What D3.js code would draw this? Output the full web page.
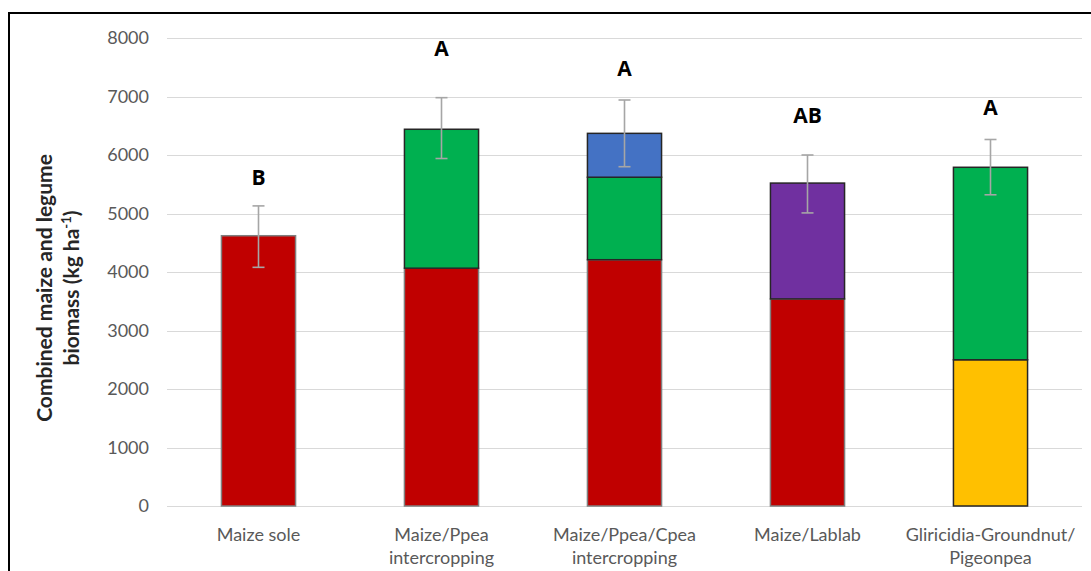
<!DOCTYPE html>
<html>
<head>
<meta charset="utf-8">
<script src="https://cdn.jsdelivr.net/npm/d3@7"></script>
<style>
  html, body { margin: 0; padding: 0; background: #fff; }
  svg { display: block; }
</style>
</head>
<body>
<svg id="chart" width="1091" height="571"></svg>
<script>
// ---- data ----
const categories = [
  ["Maize sole"],
  ["Maize/Ppea", "intercropping"],
  ["Maize/Ppea/Cpea", "intercropping"],
  ["Maize/Lablab"],
  ["Gliricidia-Groundnut/", "Pigeonpea"]
];
const catKeys = ["Maize sole", "Maize/Ppea", "Maize/Ppea/Cpea", "Maize/Lablab", "Gliricidia"];
const maize      = [4620, 4065, 4210, 3540, 0];
const gliricidia = [0, 0, 0, 0, 2500];
const pigeonpea  = [0, 2375, 1410, 0, 3290];
const cowpea     = [0, 0, 750, 0, 0];
const lablab     = [0, 0, 0, 1980, 0];
const errUpper   = [5130, 6980, 6940, 6000, 6265];
const errLower   = [4080, 5940, 5800, 5010, 5320];
const letters    = ["B", "A", "A", "AB", "A"];
const letterAt   = [5624, 7829, 7487, 6684, 6821];
const yTicks     = [0, 1000, 2000, 3000, 4000, 5000, 6000, 7000, 8000];

const seriesNames = ["maize", "gliricidia", "pigeonpea", "cowpea", "lablab"];
const seriesValues = { maize, gliricidia, pigeonpea, cowpea, lablab };
const seriesColor = { maize: "#C00000", gliricidia: "#FFC000", pigeonpea: "#00B050", cowpea: "#4472C4", lablab: "#7030A0" };
const seriesStroke = { maize: "#7f7f7f", gliricidia: "#262626", pigeonpea: "#262626", cowpea: "#262626", lablab: "#262626" };

(function () {
const svg = d3.select("#chart");
const pLeft = 167, pRight = 1082, pTop = 38, pBottom = 506;

const x = d3.scaleBand().domain(catKeys).range([pLeft, pRight]).paddingInner(0.595).paddingOuter(0.2975);
const y = d3.scaleLinear().domain([0, 8000]).range([pBottom, pTop]);

// frame
svg.append("path")
  .attr("d", `M9,571 L9,13 L1091,13`)
  .attr("fill", "none").attr("stroke", "#000").attr("stroke-width", 2);

// gridlines
svg.append("g").selectAll("line").data(yTicks).join("line")
  .attr("x1", pLeft).attr("x2", pRight)
  .attr("y1", d => Math.round(y(d)) + 0.5).attr("y2", d => Math.round(y(d)) + 0.5)
  .attr("stroke", "#D9D9D9").attr("stroke-width", 1);

// y axis labels
const yAxis = d3.axisLeft(y).tickValues(yTicks).tickFormat(d3.format("d")).tickSize(0).tickPadding(0);
const ya = svg.append("g").attr("transform", `translate(149,0)`).call(yAxis);
ya.select(".domain").remove();
ya.selectAll("text").attr("font-family", "Lato, 'Open Sans', sans-serif").attr("font-size", 18).attr("fill", "#595959");

// stacked data
const table = catKeys.map((k, i) => {
  const o = { key: k };
  seriesNames.forEach(s => o[s] = seriesValues[s][i]);
  return o;
});
const stack = d3.stack().keys(seriesNames)(table);

const barsG = svg.append("g");
stack.forEach(layer => {
  barsG.append("g").selectAll("rect")
    .data(layer.filter(d => d[1] - d[0] > 0))
    .join("rect")
    .attr("x", d => x(d.data.key))
    .attr("width", x.bandwidth())
    .attr("y", d => y(d[1]))
    .attr("height", d => y(d[0]) - y(d[1]))
    .attr("fill", seriesColor[layer.key])
    .attr("stroke", seriesStroke[layer.key])
    .attr("stroke-width", 1.5);
});

// error bars
const eg = svg.append("g").attr("stroke", "#A6A6A6").attr("stroke-width", 1.6);
catKeys.forEach((k, i) => {
  const cx = x(k) + x.bandwidth() / 2;
  eg.append("line").attr("x1", cx).attr("x2", cx).attr("y1", y(errUpper[i])).attr("y2", y(errLower[i]));
  eg.append("line").attr("x1", cx - 6).attr("x2", cx + 6).attr("y1", y(errUpper[i])).attr("y2", y(errUpper[i]));
  eg.append("line").attr("x1", cx - 6).attr("x2", cx + 6).attr("y1", y(errLower[i])).attr("y2", y(errLower[i]));
});

// letters
svg.append("g").selectAll("text").data(letters).join("text")
  .attr("x", (d, i) => x(catKeys[i]) + x.bandwidth() / 2)
  .attr("y", (d, i) => y(letterAt[i]))
  .attr("dy", "0.36em")
  .attr("text-anchor", "middle")
  .attr("font-family", "'Open Sans', Lato, sans-serif")
  .attr("font-weight", "bold").attr("font-size", 21).attr("fill", "#000")
  .text(d => d);

// x labels
const xg = svg.append("g");
categories.forEach((lines, i) => {
  const cx = x(catKeys[i]) + x.bandwidth() / 2;
  const t = xg.append("text").attr("text-anchor", "middle")
    .attr("font-family", "Lato, 'Open Sans', sans-serif").attr("font-size", 18).attr("fill", "#595959");
  lines.forEach((ln, j) => {
    t.append("tspan").attr("x", cx).attr("y", 541 + j * 23).text(ln);
  });
});

// y title
const yt = svg.append("text")
  .attr("transform", "translate(58,288) rotate(-90)")
  .attr("text-anchor", "middle")
  .attr("font-family", "Lato, 'Open Sans', sans-serif")
  .attr("font-weight", "bold").attr("font-size", 21).attr("fill", "#262626");
yt.append("tspan").attr("x", 0).attr("y", -6).text("Combined maize and legume");
const l2 = yt.append("tspan").attr("x", 0).attr("y", 21);
l2.append("tspan").text("biomass (kg ha");
l2.append("tspan").attr("font-size", 13).attr("dy", -8).text("-1");
l2.append("tspan").attr("dy", 8).text(")");
})();
</script>
</body>
</html>
